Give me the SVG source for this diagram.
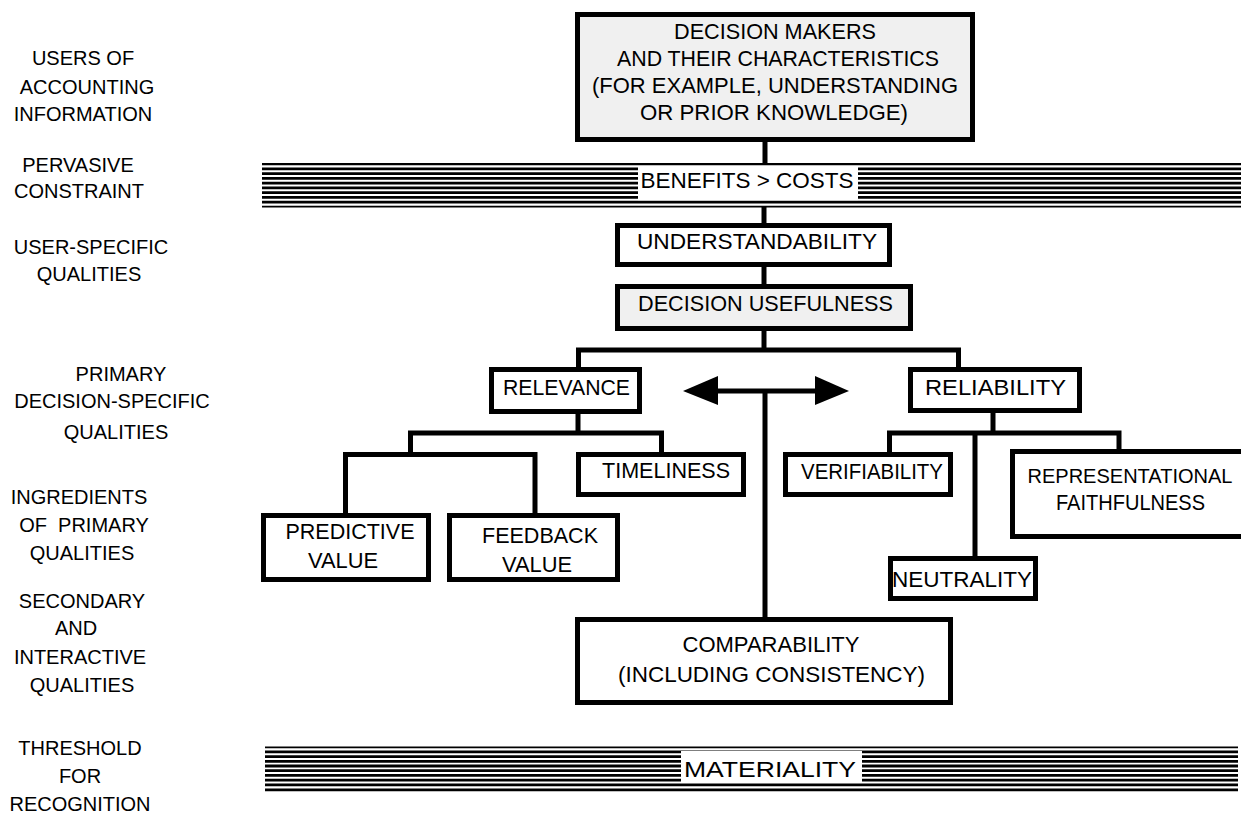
<svg xmlns="http://www.w3.org/2000/svg" width="1241" height="814" viewBox="0 0 1241 814">
<style>
text{font-family:"Liberation Sans",Arial,sans-serif;fill:#000;text-anchor:middle}
.lbl{font-size:20px}
.t{font-size:22.5px}
.box{fill:#fff;stroke:#000;stroke-width:5}
.gbox{fill:#f0f0f0;stroke:#000;stroke-width:5}
.c{fill:none;stroke:#000;stroke-width:5}
.band line{stroke:#000;stroke-width:2.8}
</style>
<rect width="1241" height="814" fill="#fff"/>
<g id="side-labels">
<text class="lbl" x="83" y="65">USERS OF</text>
<text class="lbl" x="87" y="94">ACCOUNTING</text>
<text class="lbl" x="83" y="121">INFORMATION</text>
<text class="lbl" x="78" y="172">PERVASIVE</text>
<text class="lbl" x="79" y="198">CONSTRAINT</text>
<text class="lbl" x="91" y="254">USER-SPECIFIC</text>
<text class="lbl" x="89" y="281">QUALITIES</text>
<text class="lbl" x="121" y="381">PRIMARY</text>
<text class="lbl" x="112" y="408">DECISION-SPECIFIC</text>
<text class="lbl" x="116" y="439">QUALITIES</text>
<text class="lbl" x="79" y="504">INGREDIENTS</text>
<text class="lbl" x="84" y="532" xml:space="preserve">OF  PRIMARY</text>
<text class="lbl" x="82" y="560">QUALITIES</text>
<text class="lbl" x="82" y="608">SECONDARY</text>
<text class="lbl" x="76" y="635">AND</text>
<text class="lbl" x="80" y="664">INTERACTIVE</text>
<text class="lbl" x="82" y="692">QUALITIES</text>
<text class="lbl" x="80" y="755">THRESHOLD</text>
<text class="lbl" x="80" y="783">FOR</text>
<text class="lbl" x="80" y="811">RECOGNITION</text>
</g>
<g id="band-benefits" class="band">
<line x1="262" y1="164.2" x2="1241" y2="164.2" style="stroke-width:2.2"/>
<line x1="262" y1="168.95" x2="1241" y2="168.95"/>
<line x1="262" y1="173.7" x2="1241" y2="173.7"/>
<line x1="262" y1="178.45" x2="1241" y2="178.45"/>
<line x1="262" y1="183.2" x2="1241" y2="183.2"/>
<line x1="262" y1="187.95" x2="1241" y2="187.95"/>
<line x1="262" y1="192.7" x2="1241" y2="192.7"/>
<line x1="262" y1="197.45" x2="1241" y2="197.45"/>
<line x1="262" y1="202.2" x2="1241" y2="202.2"/>
<line x1="262" y1="206.6" x2="1241" y2="206.6" style="stroke-width:1.8"/>
<rect x="638" y="166.5" width="220" height="33.6" fill="#fff"/>
<text class="t" x="747" y="188" textLength="213" lengthAdjust="spacingAndGlyphs">BENEFITS &gt; COSTS</text>
</g>
<g id="band-materiality" class="band">
<line x1="265" y1="747.4" x2="1238" y2="747.4" style="stroke-width:1.8"/>
<line x1="265" y1="751.9" x2="1238" y2="751.9"/>
<line x1="265" y1="756.6" x2="1238" y2="756.6"/>
<line x1="265" y1="761.3" x2="1238" y2="761.3"/>
<line x1="265" y1="766" x2="1238" y2="766"/>
<line x1="265" y1="770.7" x2="1238" y2="770.7"/>
<line x1="265" y1="775.4" x2="1238" y2="775.4"/>
<line x1="265" y1="780.1" x2="1238" y2="780.1"/>
<line x1="265" y1="784.8" x2="1238" y2="784.8"/>
<line x1="265" y1="789.8" x2="1238" y2="789.8"/>
<rect x="681" y="751" width="181" height="31" fill="#fff"/>
<text class="t" x="770" y="777" textLength="172" lengthAdjust="spacingAndGlyphs">MATERIALITY</text>
</g>
<g id="connectors">
<path class="c" d="M765 142V163"/>
<path class="c" d="M764 207V223"/>
<path class="c" d="M764 267V284"/>
<path class="c" d="M764 331V350"/>
<path class="c" d="M576 350H961M578.5 350V367M958.5 350V367"/>
<path class="c" d="M578 414V433M408 433H664M410.5 433V454M343 454.5H537.5M345.5 454V513M535 454V513M661.5 433V452"/>
<path class="c" d="M716 391H817M765 391V617"/>
<polygon points="683,391 718,376 718,405" fill="#000"/>
<polygon points="849,391 815,376 815,405" fill="#000"/>
<path class="c" d="M993 413V433M887 433H1121.5M889.5 433V452M1119 433V456M975 433V556"/>
</g>
<g id="decision-makers">
<rect class="gbox" x="577.5" y="14.5" width="395" height="125"/>
<text class="t" x="775" y="39" textLength="202" lengthAdjust="spacingAndGlyphs">DECISION MAKERS</text>
<text class="t" x="778" y="66" textLength="322" lengthAdjust="spacingAndGlyphs">AND THEIR CHARACTERISTICS</text>
<text class="t" x="775" y="93" textLength="366" lengthAdjust="spacingAndGlyphs">(FOR EXAMPLE, UNDERSTANDING</text>
<text class="t" x="774" y="120" textLength="268" lengthAdjust="spacingAndGlyphs">OR PRIOR KNOWLEDGE)</text>
</g>
<g id="understandability">
<rect class="box" x="617.5" y="225.5" width="272" height="39"/>
<text class="t" x="757" y="249" textLength="240" lengthAdjust="spacingAndGlyphs">UNDERSTANDABILITY</text>
</g>
<g id="decision-usefulness">
<rect class="gbox" x="617.5" y="286.5" width="293" height="42"/>
<text class="t" x="765.5" y="311" textLength="255" lengthAdjust="spacingAndGlyphs">DECISION USEFULNESS</text>
</g>
<g id="relevance">
<rect class="box" x="491.5" y="369.5" width="148" height="42"/>
<text class="t" x="566.5" y="395" textLength="127" lengthAdjust="spacingAndGlyphs">RELEVANCE</text>
</g>
<g id="reliability">
<rect class="box" x="910.5" y="369.5" width="169" height="41"/>
<text class="t" x="995.5" y="395" textLength="141" lengthAdjust="spacingAndGlyphs">RELIABILITY</text>
</g>
<g id="timeliness">
<rect class="box" x="578.5" y="454.5" width="165" height="40"/>
<text class="t" x="666" y="478" textLength="128" lengthAdjust="spacingAndGlyphs">TIMELINESS</text>
</g>
<g id="predictive-value">
<rect class="box" x="263.5" y="515.5" width="165" height="64"/>
<text class="t" x="350" y="539" textLength="129" lengthAdjust="spacingAndGlyphs">PREDICTIVE</text>
<text class="t" x="343" y="568" textLength="70" lengthAdjust="spacingAndGlyphs">VALUE</text>
</g>
<g id="feedback-value">
<rect class="box" x="449.5" y="515.5" width="168" height="64"/>
<text class="t" x="540" y="543" textLength="116" lengthAdjust="spacingAndGlyphs">FEEDBACK</text>
<text class="t" x="537" y="572" textLength="70" lengthAdjust="spacingAndGlyphs">VALUE</text>
</g>
<g id="verifiability">
<rect class="box" x="785.5" y="454.5" width="165" height="40"/>
<text class="t" x="872" y="479" textLength="142" lengthAdjust="spacingAndGlyphs">VERIFIABILITY</text>
</g>
<g id="representational-faithfulness">
<path class="box" d="M1241 451.5H1012.5V536.5H1241"/>
<text x="1130" y="483" style="font-size:20px" textLength="205" lengthAdjust="spacingAndGlyphs">REPRESENTATIONAL</text>
<text class="t" x="1130.5" y="510" textLength="149" lengthAdjust="spacingAndGlyphs">FAITHFULNESS</text>
</g>
<g id="neutrality">
<rect class="box" x="890.5" y="558.5" width="145" height="40"/>
<text class="t" x="962" y="587" textLength="140" lengthAdjust="spacingAndGlyphs">NEUTRALITY</text>
</g>
<g id="comparability">
<rect class="box" x="577.5" y="619.5" width="373" height="83"/>
<text class="t" x="771" y="652" textLength="177" lengthAdjust="spacingAndGlyphs">COMPARABILITY</text>
<text class="t" x="771.5" y="682" textLength="307" lengthAdjust="spacingAndGlyphs">(INCLUDING CONSISTENCY)</text>
</g>
</svg>
